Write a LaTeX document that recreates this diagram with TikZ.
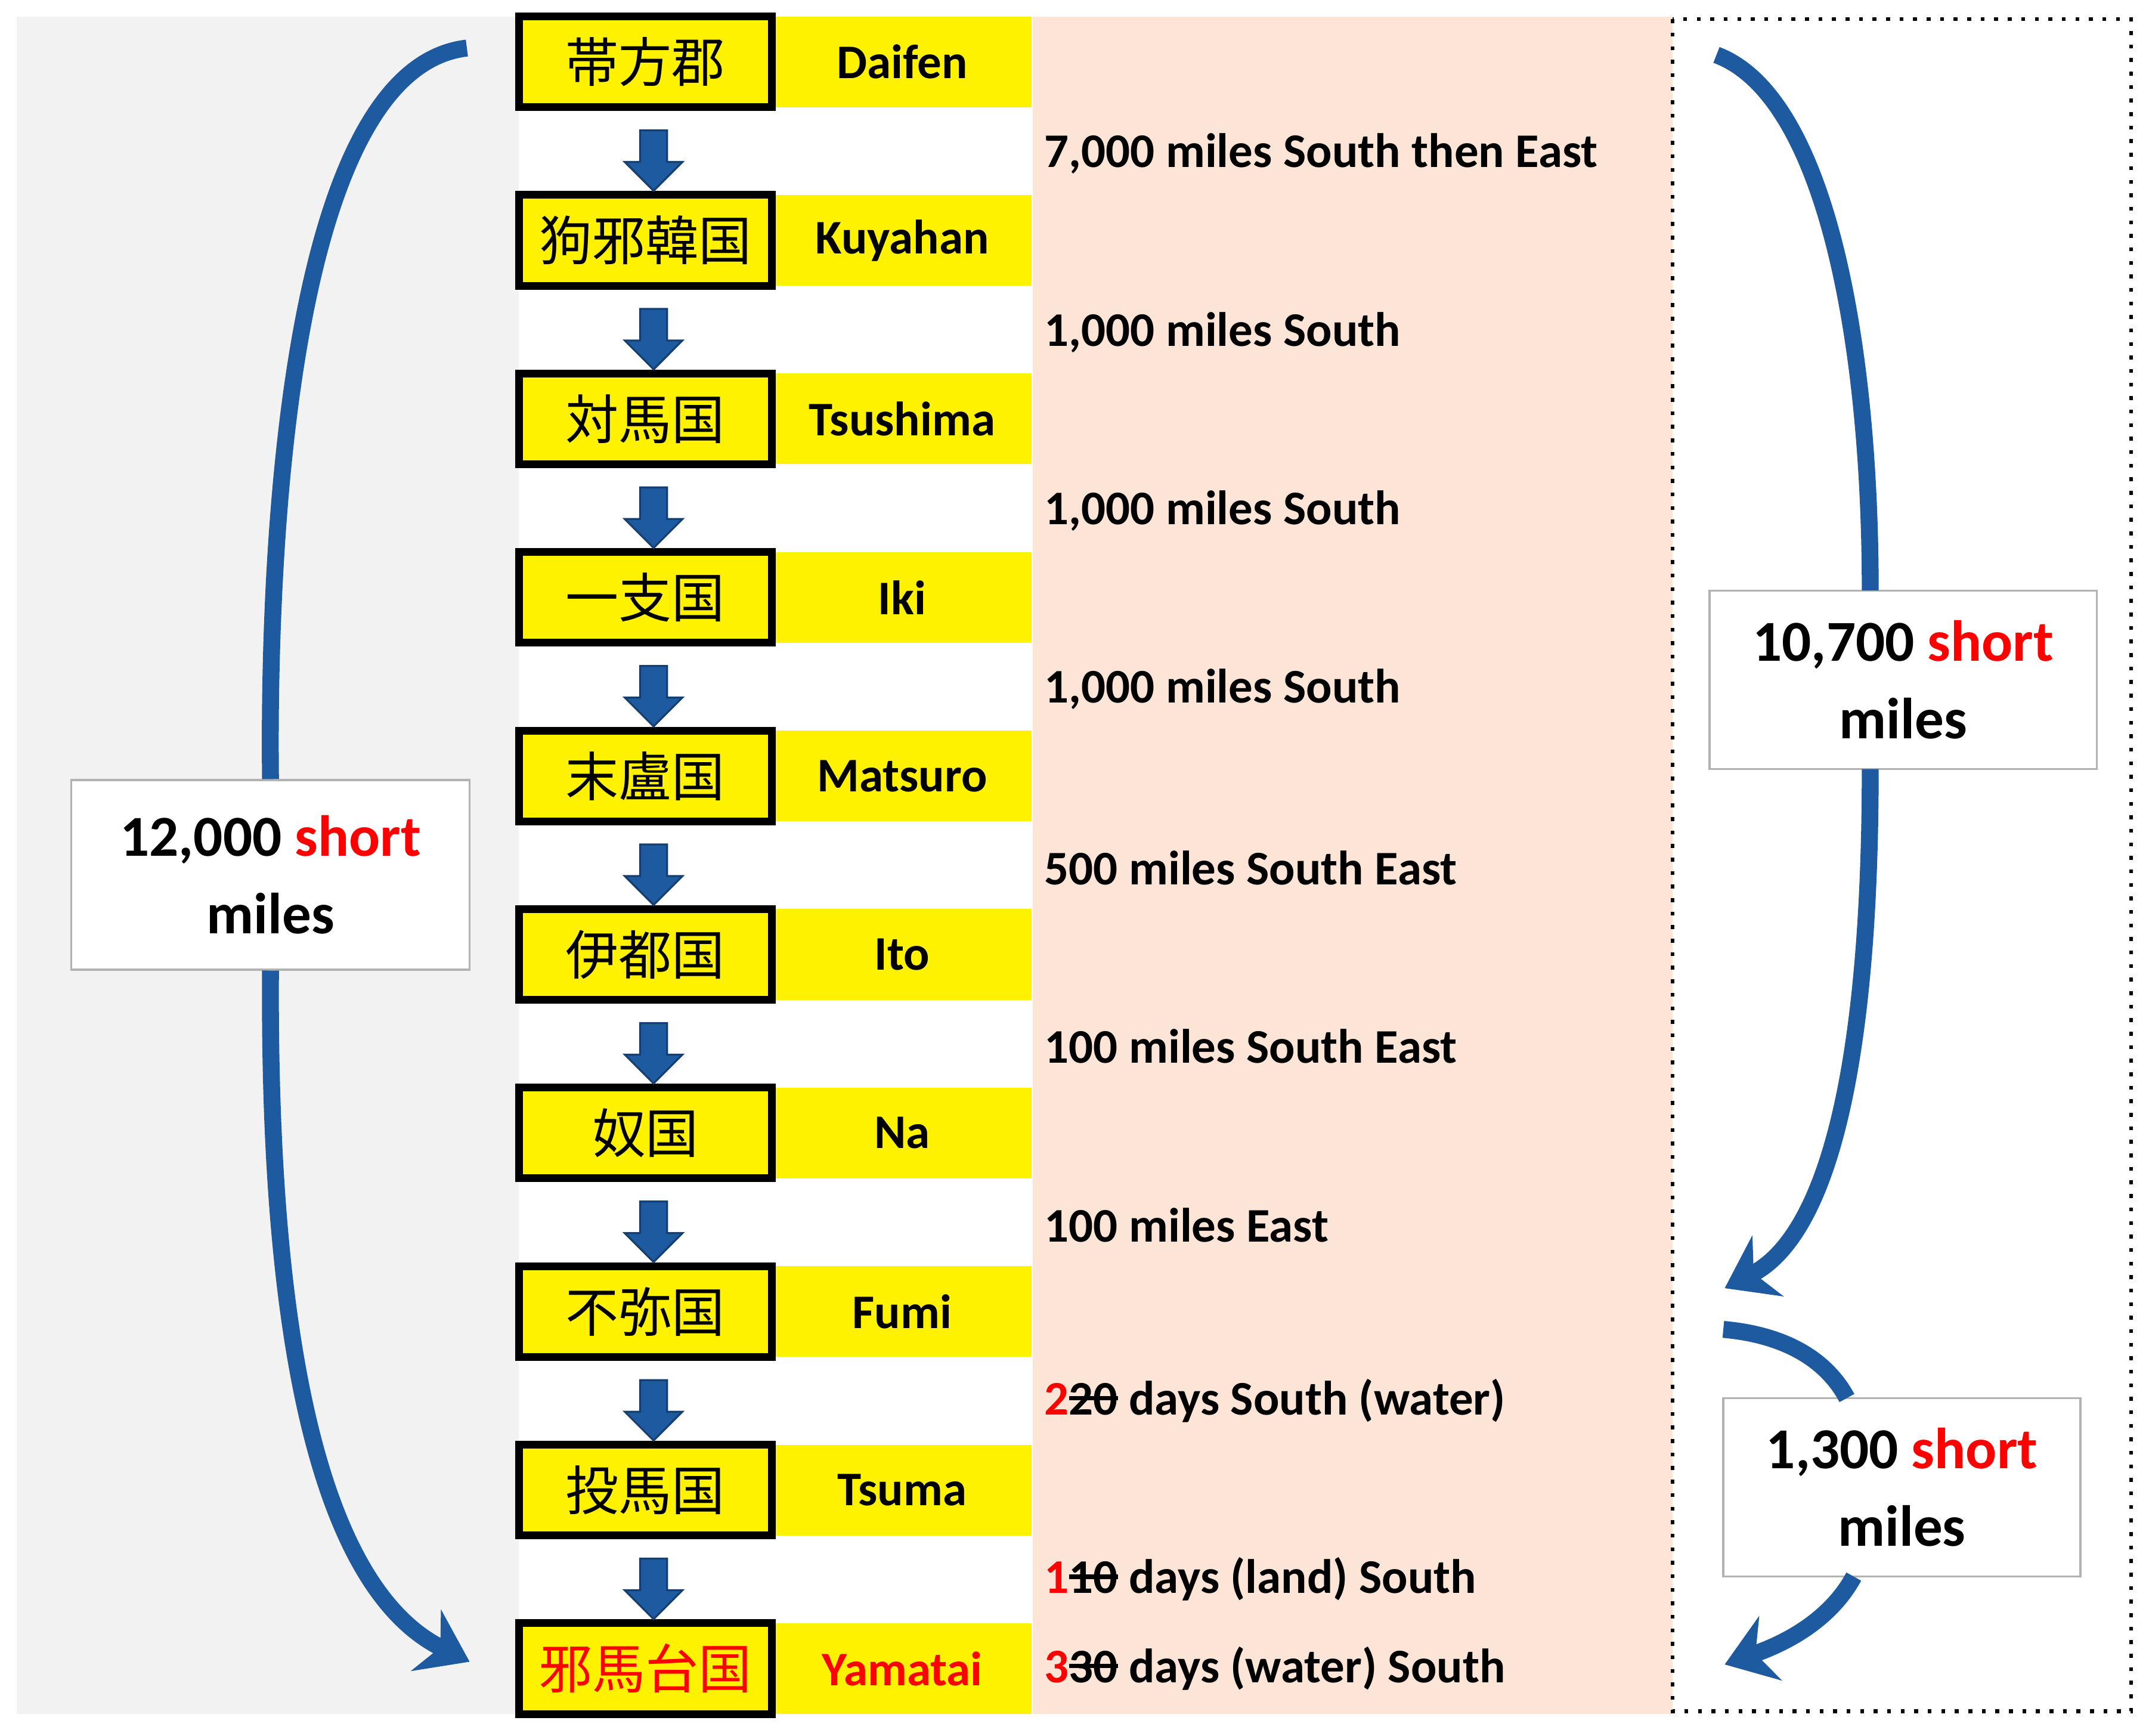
\documentclass[tikz,border=0pt]{standalone}
\usepackage{fontspec}
\setmainfont{Carlito}
\newfontfamily\cjk{Noto Sans CJK JP}
\usetikzlibrary{shapes.arrows,arrows.meta}
\newcommand{\struck}[1]{\ooalign{#1\cr\rule[0.3em]{\widthof{#1}}{0.09em}}}
\usepackage{calc}
\definecolor{arrowblue}{RGB}{30,90,160}
\definecolor{peach}{RGB}{252,228,214}
\definecolor{bggray}{RGB}{242,242,242}
\tikzset{
    NameBox/.style={draw=black,line width=1.6pt,fill=yellow,minimum width=1.84cm,
      minimum height=0.66cm,inner sep=0pt,font=\cjk\fontsize{11}{13}\selectfont},
    EnBox/.style={fill=yellow,minimum width=1.88cm,minimum height=0.66cm,inner sep=0pt,
      font=\bfseries\fontsize{10}{12}\selectfont},
    DistText/.style={anchor=west,inner sep=0pt,font=\bfseries\fontsize{10}{12}\selectfont},
    DownArrow/.style={single arrow,fill=arrowblue,draw=arrowblue!70!black,shape border rotate=270,
      minimum height=0.44cm,minimum width=0.42cm,single arrow head extend=0.06cm,inner sep=1.3pt},
    SumBox/.style={draw=black!30,fill=white,align=center,inner sep=0pt,
      font=\bfseries\fontsize{12}{16}\selectfont},
    BigArrow/.style={arrowblue,line width=3.5pt,-{Stealth[length=10pt,width=14pt]}}
}
\begin{document}
\begin{tikzpicture}[x=0.01cm,y=-0.01cm]
    \useasboundingbox (0,0) rectangle (1565,1264);
    \fill[bggray] (12,12) rectangle (378,1248);
    \fill[peach] (752,12) rectangle (1218,1248);
    \draw[dotted,thick] (1218,14) rectangle (1552,1246);

    % stations
    \foreach \i/\kanji/\place in {0/帯方郡/Daifen,1/狗邪韓国/Kuyahan,2/対馬国/Tsushima,
      3/一支国/Iki,4/末盧国/Matsuro,5/伊都国/Ito,6/奴国/Na,7/不弥国/Fumi,8/投馬国/Tsuma}
    {
    \node[EnBox] (e\i) at (657,45+130*\i) {\place};
    \node[NameBox] (n\i) at (470,45+130*\i) {\kanji};
    }
    \node[EnBox,text=red] (e9) at (657,1215) {Yamatai};
    \node[NameBox,text=red] (n9) at (470,1215) {邪馬台国};

    \foreach \i in {0,...,8}
        \node[DownArrow] (a\i) at (476,112+130*\i) {};

    % distances
    \node[DistText] (d0) at (760,112) {7,000 miles South then East};
    \node[DistText] (d1) at (760,242) {1,000 miles South};
    \node[DistText] (d2) at (760,372) {1,000 miles South};
    \node[DistText] (d3) at (760,502) {1,000 miles South};
    \node[DistText] (d4) at (760,632) {500 miles South East};
    \node[DistText] (d5) at (760,762) {100 miles South East};
    \node[DistText] (d6) at (760,892) {100 miles East};
    \node[DistText] (d7) at (760,1020) {\textcolor{red}{2}\struck{20} days South (water)};
    \node[DistText] (d8) at (760,1150) {\textcolor{red}{1}\struck{10} days (land) South};
    \node[DistText] (d9) at (760,1215) {\textcolor{red}{3}\struck{30} days (water) South};

    % totals
    \node[SumBox,minimum width=2.9cm,minimum height=1.38cm] (lbox) at (197,637)
        {12,000 \textcolor{red}{short}\\miles};
    \node[SumBox,minimum width=2.82cm,minimum height=1.3cm] (rbox) at (1386,495)
        {10,700 \textcolor{red}{short}\\miles};
    \node[SumBox,minimum width=2.6cm,minimum height=1.3cm] (sbox) at (1385,1083)
        {1,300 \textcolor{red}{short}\\miles};

    \coordinate (lt) at (340,35);
    \coordinate (lb) at (342,1210);
    \coordinate (rt) at (1250,40);
    \coordinate (rm) at (1362,430);
    \coordinate (rn) at (1362,560);
    \coordinate (rb) at (1256,938);
    \coordinate (st) at (1255,968);
    \coordinate (sm) at (1345,1018);
    \coordinate (sn) at (1350,1148);
    \coordinate (sb) at (1256,1212);

    \draw[arrowblue,line width=3.5pt] (lt) .. controls (210,50) and (195,400) .. (lbox.north);
    \draw[BigArrow] (lbox.south) .. controls (195,1000) and (240,1160) .. (lb);
    \draw[arrowblue,line width=3.5pt] (rt) .. controls (1330,70) and (1362,250) .. (rm);
    \draw[BigArrow] (rn) .. controls (1362,780) and (1330,900) .. (rb);
    \draw[arrowblue,line width=3.5pt] (st) .. controls (1300,972) and (1330,990) .. (sm);
    \draw[BigArrow] (sn) .. controls (1330,1185) and (1290,1200) .. (sb);
\end{tikzpicture}
\end{document}
